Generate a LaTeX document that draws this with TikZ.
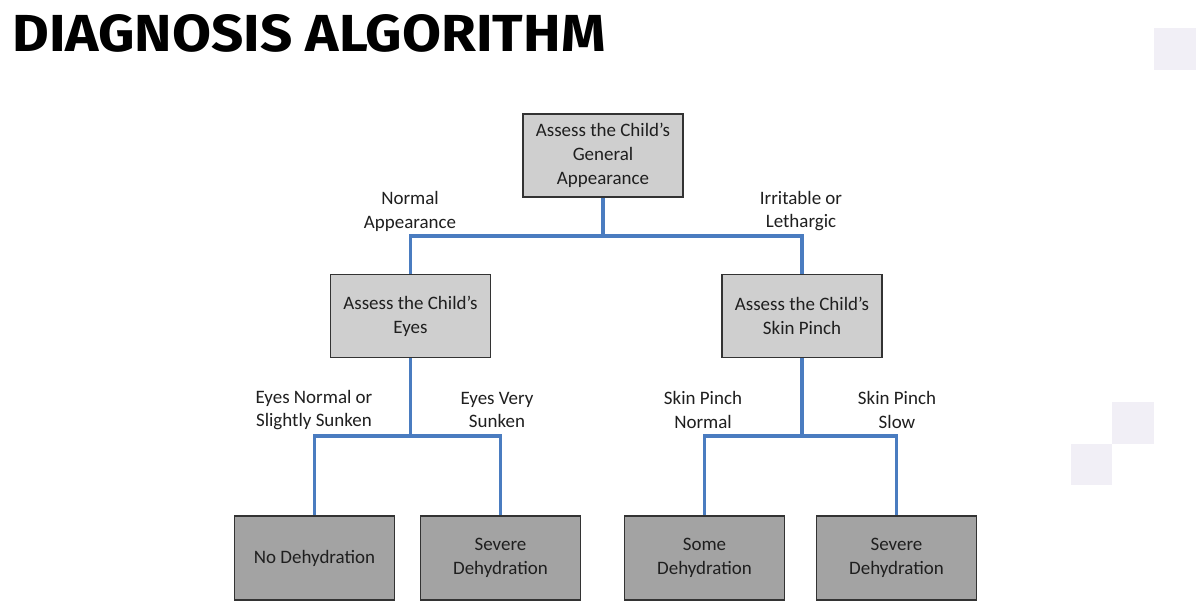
\documentclass[tikz,border=0pt]{standalone}
\usepackage{fontspec}
\usepackage{graphicx}
\setmainfont{Carlito}
\newfontfamily\titlefont{Fira Sans}

\definecolor{linkblue}{HTML}{4A7CC0}
\definecolor{boxlight}{HTML}{CFCFCF}
\definecolor{boxdark}{HTML}{A3A3A3}
\definecolor{boxedge}{HTML}{333333}
\definecolor{deco}{HTML}{F1EFF6}

\tikzset{
  stage/.style={draw=boxedge, line width=1.1pt, fill=boxlight,
    minimum width=3.2cm, minimum height=1.66cm, align=center,
    font=\fontsize{10.8}{13.6}\selectfont, text=black!88},
  outcome/.style={stage, fill=boxdark},
  branch/.style={align=center, font=\fontsize{10.8}{13.6}\selectfont, text=black!88},
  link/.style={draw=linkblue, line width=2.2pt},
}

\begin{document}
\begin{tikzpicture}[x=0.02cm, y=-0.02cm]
  \useasboundingbox[fill=white] (0,0) rectangle (1203,606);

  % background squares
  \fill[deco] (1154,28) rectangle (1196,70);
  \fill[deco] (1112,402) rectangle (1154,444);
  \fill[deco] (1071,444) rectangle (1112,485);

  \node[anchor=south west, inner sep=0pt] (title) at (12,53)
    {\resizebox{11.86cm}{0.74cm}{\titlefont\bfseries DIAGNOSIS ALGORITHM}};

  % boxes
  \node[stage] (general) at (603,155.5) {Assess the Child's\\General\\Appearance};
  \node[stage] (eyes) at (410.5,316) {Assess the Child's\\Eyes};
  \node[stage] (skin) at (802,316) {Assess the Child's\\Skin Pinch};

  \node[outcome, minimum height=1.68cm] (nodehyd) at (314.5,558) {No Dehydration};
  \node[outcome, minimum height=1.68cm] (sevA) at (500.5,558) {Severe\\Dehydration};
  \node[outcome, minimum height=1.68cm] (some) at (704.5,558) {Some\\Dehydration};
  \node[outcome, minimum height=1.68cm] (sevB) at (896.5,558) {Severe\\Dehydration};

  % branch points
  \coordinate (splitTop) at (603,236);
  \coordinate (splitEyes) at (410.5,436);
  \coordinate (splitSkin) at (802,436);

  % connectors
  \draw[link] (general.south) -- (splitTop);
  \draw[link] (eyes.north) |- (splitTop) -| (skin.north);
  \draw[link] (eyes.south) -- (splitEyes);
  \draw[link] (nodehyd.north) |- (splitEyes) -| (sevA.north);
  \draw[link] (skin.south) -- (splitSkin);
  \draw[link] (some.north) |- (splitSkin) -| (sevB.north);

  % labels
  \node[branch] (lblNormal) at (410,211) {Normal\\Appearance};
  \node[branch] (lblIrritable) at (801,211) {Irritable or\\Lethargic};
  \node[branch] (lblEyesN) at (314,410) {Eyes Normal or\\Slightly Sunken};
  \node[branch] (lblEyesV) at (497,410) {Eyes Very\\Sunken};
  \node[branch] (lblSkinN) at (703,410) {Skin Pinch\\Normal};
  \node[branch] (lblSkinS) at (897,410) {Skin Pinch\\Slow};
\end{tikzpicture}
\end{document}
